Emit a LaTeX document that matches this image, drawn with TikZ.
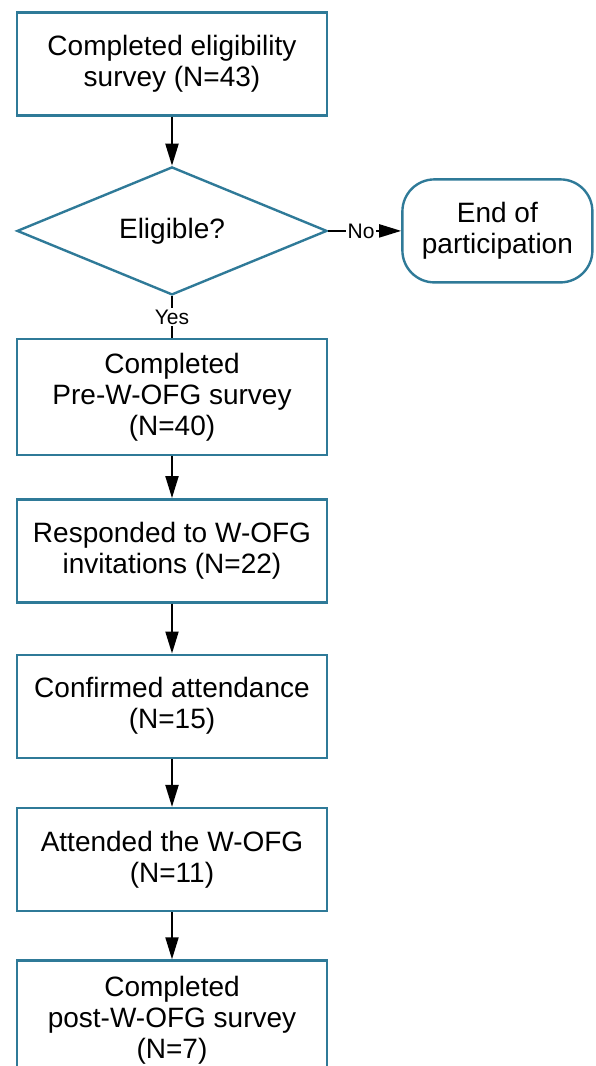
\documentclass[tikz,border=0pt]{standalone}
\usepackage{fontspec}
\setmainfont{Liberation Sans}
\definecolor{flowteal}{RGB}{47,122,152}
\usetikzlibrary{arrows.meta, positioning, shapes.geometric}

\begin{document}
\begin{tikzpicture}[
    node distance=24pt,
    box/.style={draw=flowteal, line width=1.2pt, minimum width=155pt, minimum height=51.5pt, align=center, font=\fontsize{14}{15.5}\selectfont, inner sep=2pt},
    decision/.style={diamond, aspect=2.4, draw=flowteal, line width=1.2pt, minimum width=155pt, minimum height=64pt, font=\fontsize{14}{15.5}\selectfont, inner sep=1pt},
    terminal/.style={box, rounded corners=16pt, minimum width=95pt},
    arr/.style={-{Triangle[length=11pt, width=6.5pt]}, line width=1pt},
    lbl/.style={font=\fontsize{10.5}{12}\selectfont, fill=white, inner sep=1pt}
]
    \useasboundingbox (0,0) rectangle (297.5pt,-533pt);

    \node[box] (elig) at (86pt,-32pt) {Completed eligibility\\survey (N=43)};
    \node[decision, below=24.5pt of elig] (check) {Eligible?};
    \node[terminal, right=36.5pt of check] (stop) {End of\\participation};

    \node[box, below=20.8pt of check, minimum height=58pt] (pre) {Completed\\Pre-W-OFG survey\\(N=40)};
    \node[box, below=21pt of pre] (invite) {Responded to W-OFG\\invitations (N=22)};
    \node[box, below=25pt of invite] (confirm) {Confirmed attendance\\(N=15)};
    \node[box, below=24pt of confirm] (attend) {Attended the W-OFG\\(N=11)};
    \node[box, below=23.5pt of attend, minimum height=60pt] (post) {Completed\\post-W-OFG survey\\(N=7)};

    \draw[arr] (elig) -- (check);
    \draw[arr] (check) -- node[lbl, pos=0.45] {No} (stop);
    \draw[line width=1pt] (check) -- node[lbl] {Yes} (pre);
    \draw[arr] (pre) -- (invite);
    \draw[arr] (invite) -- (confirm);
    \draw[arr] (confirm) -- (attend);
    \draw[arr] (attend) -- (post);
\end{tikzpicture}
\end{document}
